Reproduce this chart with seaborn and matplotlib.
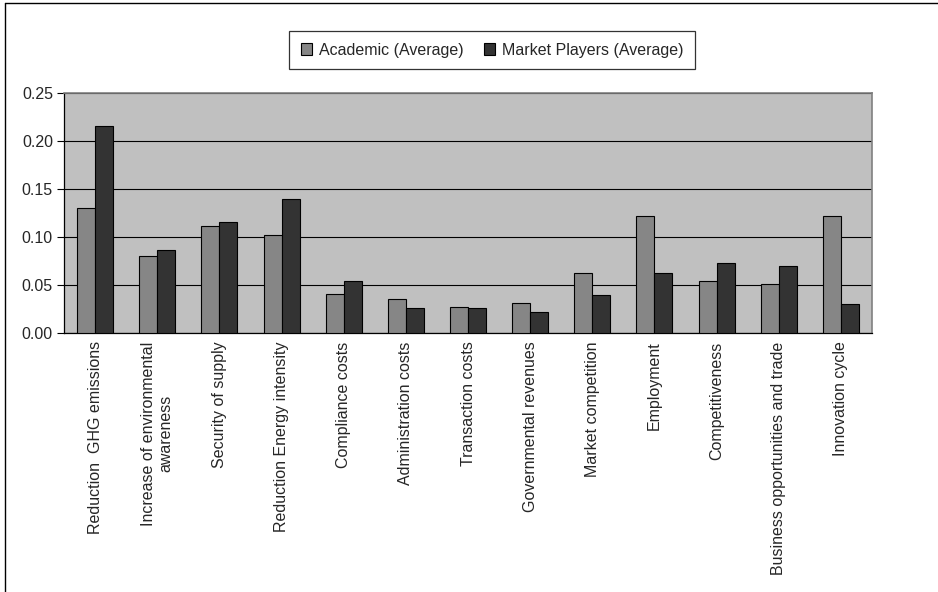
import matplotlib
matplotlib.use("Agg")
import matplotlib.pyplot as plt
import seaborn as sns
import pandas as pd
import numpy as np
from matplotlib.lines import Line2D

categories = [
    "Reduction  GHG emissions",
    "Increase of environmental\nawareness",
    "Security of supply",
    "Reduction Energy intensity",
    "Compliance costs",
    "Administration costs",
    "Transaction costs",
    "Governmental revenues",
    "Market competition",
    "Employment",
    "Competitiveness",
    "Business opportunities and trade",
    "Innovation cycle",
]
academic = [0.130, 0.080, 0.111, 0.102, 0.041, 0.035, 0.027, 0.031, 0.062, 0.122, 0.054, 0.051, 0.122]
market = [0.216, 0.086, 0.116, 0.140, 0.054, 0.026, 0.026, 0.022, 0.040, 0.062, 0.073, 0.070, 0.030]
series = ["Academic (Average)", "Market Players (Average)"]

df = pd.DataFrame({
    "category": categories * 2,
    "value": academic + market,
    "series": [series[0]] * len(categories) + [series[1]] * len(categories),
})

sns.set_style("white")
plt.rcParams["font.family"] = ["Liberation Sans", "DejaVu Sans"]

fig = plt.figure(figsize=(9.38, 5.92), dpi=100)
W, H = 938, 592
ax = fig.add_axes([64 / W, 1 - 333 / H, 808 / W, 240 / H])

sns.barplot(data=df, x="category", y="value", hue="series", order=categories,
            hue_order=series, palette=["#868686", "#333333"], width=0.58,
            edgecolor="black", linewidth=0.8, saturation=1, ax=ax, zorder=3)

ax.set_facecolor("#c0c0c0")
ax.set_xlim(-0.5, len(categories) - 0.5)
ax.set_ylim(0, 0.25)
ax.set_yticks(np.arange(0, 0.251, 0.05))
ax.set_yticklabels([f"{v:.2f}" for v in np.arange(0, 0.251, 0.05)], fontsize=11.5)
ax.yaxis.grid(True, color="black", linewidth=0.8, zorder=1)
ax.set_axisbelow(True)
ax.set_xlabel("")
ax.set_ylabel("")

ax.set_xticks(range(len(categories)))
ax.set_xticklabels(categories, rotation=90, fontsize=11.5, va="top", ha="center",
                   multialignment="center")
ax.tick_params(axis="x", which="major", length=0, pad=6)
ax.set_xticks(np.arange(-0.5, len(categories), 1.0), minor=True)
ax.tick_params(axis="x", which="minor", length=5, width=0.8, color="black", direction="out")
ax.tick_params(axis="y", which="major", length=5, width=0.8, color="black", direction="out",
               left=True, pad=3)

for side in ["left", "bottom"]:
    ax.spines[side].set_color("black")
    ax.spines[side].set_linewidth(0.9)
for side in ["top", "right"]:
    ax.spines[side].set_color("#808080")
    ax.spines[side].set_linewidth(1.2)

ax.get_legend().remove()
handles, labels = ax.get_legend_handles_labels()
leg = fig.legend(handles, labels, loc="center", bbox_to_anchor=(492 / W, 1 - 50 / H),
                 ncol=2, fontsize=11.5, frameon=True, fancybox=False, edgecolor="black",
                 handlelength=0.7, handleheight=0.7, handletextpad=0.4, columnspacing=1.3,
                 borderpad=0.75)
leg.get_frame().set_linewidth(0.9)

# outer chart border (left and top visible)
fig.add_artist(Line2D([5 / W, 5 / W], [0, 1 - 3 / H], color="black", linewidth=1.0,
                      transform=fig.transFigure))
fig.add_artist(Line2D([5 / W, 1], [1 - 3 / H, 1 - 3 / H], color="black", linewidth=1.0,
                      transform=fig.transFigure))

fig.savefig("out.png", dpi=100)
